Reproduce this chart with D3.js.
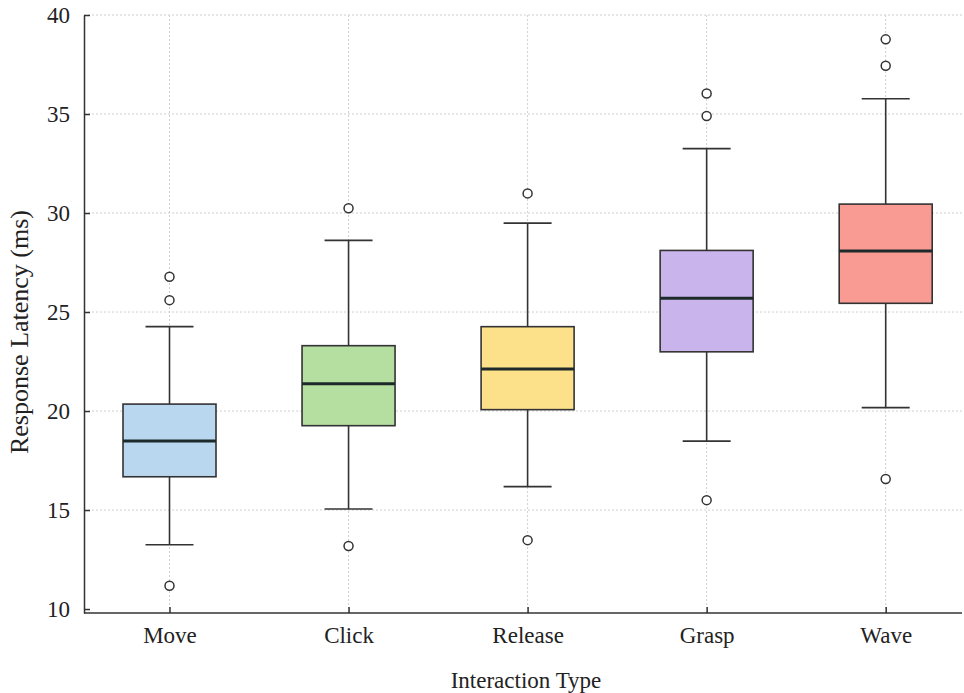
<!DOCTYPE html>
<html>
<head>
<meta charset="utf-8">
<script src="https://cdn.jsdelivr.net/npm/d3@7"></script>
<style>
  html, body { margin: 0; padding: 0; background: #fff; }
  svg { display: block; }
  text { font-family: "Liberation Serif", "DejaVu Serif", serif; fill: #222; }
</style>
</head>
<body>
<svg id="chart" width="964" height="693"></svg>
<script>
const categories = ["Move", "Click", "Release", "Grasp", "Wave"];
const q1 =        [16.68, 19.26, 20.07, 22.99, 25.44];
const medians =   [18.48, 21.38, 22.12, 25.69, 28.08];
const q3 =        [20.35, 23.30, 24.26, 28.11, 30.45];
const whiskerLo = [13.25, 15.05, 16.18, 18.48, 20.17];
const whiskerHi = [24.26, 28.62, 29.49, 33.25, 35.77];
const outliers = [
  [26.78, 25.60, 11.18],
  [30.24, 13.18],
  [30.99, 13.48],
  [36.04, 34.90, 15.50],
  [38.77, 37.44, 16.57]
];
const colors = ["#b9d7ee", "#b4dfa0", "#fde08a", "#c9b4ec", "#f99b93"];
const yTicks = [10, 15, 20, 25, 30, 35, 40];

(function () {
const svg = d3.select("#chart");
const mLeft = 84, mRight = 962, mTop = 15, mBottom = 613;

const y = d3.scaleLinear().domain([9.8, 40]).range([mBottom, mTop]);
const x = d3.scalePoint().domain(categories).range([169.5, 885.7]);

const gridColor = "#cfcfcf";
svg.append("g").selectAll("line").data(yTicks.filter(t => t > 10)).join("line")
  .attr("x1", mLeft).attr("x2", mRight)
  .attr("y1", d => y(d)).attr("y2", d => y(d))
  .attr("stroke", gridColor).attr("stroke-width", 1).attr("stroke-dasharray", "2,2");
svg.append("g").selectAll("line").data(categories).join("line")
  .attr("x1", d => x(d)).attr("x2", d => x(d))
  .attr("y1", mTop).attr("y2", mBottom)
  .attr("stroke", gridColor).attr("stroke-width", 1).attr("stroke-dasharray", "2,2");

const yAxis = svg.append("g").attr("transform", `translate(${mLeft},0)`)
  .call(d3.axisLeft(y).tickValues(yTicks).tickSizeInner(-6).tickSizeOuter(0).tickPadding(14));
yAxis.select(".domain").attr("stroke", "#333").attr("stroke-width", 1.5);
yAxis.selectAll(".tick line").attr("stroke", "#333").attr("stroke-width", 1.5);
yAxis.selectAll("text").attr("font-size", 23).attr("font-family", "Liberation Serif").attr("fill", "#222");

const xAxis = svg.append("g").attr("transform", `translate(0,${mBottom})`)
  .call(d3.axisBottom(x).tickSizeInner(-6).tickSizeOuter(0).tickPadding(14));
xAxis.select(".domain").remove();
xAxis.append("line").attr("x1", mLeft).attr("x2", mRight).attr("y1", 0).attr("y2", 0)
  .attr("stroke", "#333").attr("stroke-width", 1.5);
xAxis.selectAll(".tick line").attr("stroke", "#333").attr("stroke-width", 1.5);
xAxis.selectAll("text").attr("font-size", 23).attr("font-family", "Liberation Serif").attr("fill", "#222");

const boxW = 93, capW = 48;
const g = svg.append("g");
const stroke = "#333";
categories.forEach((c, i) => {
  const cx = x(c);
  g.append("line").attr("x1", cx).attr("x2", cx).attr("y1", y(q3[i])).attr("y2", y(whiskerHi[i]))
    .attr("stroke", stroke).attr("stroke-width", 1.6);
  g.append("line").attr("x1", cx).attr("x2", cx).attr("y1", y(q1[i])).attr("y2", y(whiskerLo[i]))
    .attr("stroke", stroke).attr("stroke-width", 1.6);
  g.append("line").attr("x1", cx - capW/2).attr("x2", cx + capW/2).attr("y1", y(whiskerHi[i])).attr("y2", y(whiskerHi[i]))
    .attr("stroke", stroke).attr("stroke-width", 1.6);
  g.append("line").attr("x1", cx - capW/2).attr("x2", cx + capW/2).attr("y1", y(whiskerLo[i])).attr("y2", y(whiskerLo[i]))
    .attr("stroke", stroke).attr("stroke-width", 1.6);
  g.append("rect").attr("x", cx - boxW/2).attr("width", boxW)
    .attr("y", y(q3[i])).attr("height", y(q1[i]) - y(q3[i]))
    .attr("fill", colors[i]).attr("stroke", stroke).attr("stroke-width", 1.6);
  g.append("line").attr("x1", cx - boxW/2).attr("x2", cx + boxW/2).attr("y1", y(medians[i])).attr("y2", y(medians[i]))
    .attr("stroke", "#1e2a2a").attr("stroke-width", 3);
  g.selectAll(null).data(outliers[i]).join("circle")
    .attr("cx", cx).attr("cy", d => y(d)).attr("r", 4.5)
    .attr("fill", "#fff").attr("stroke", stroke).attr("stroke-width", 1.5);
});

svg.append("text").attr("x", 526).attr("y", 688).attr("text-anchor", "middle")
  .attr("font-size", 23).text("Interaction Type");
svg.append("text").attr("transform", "translate(28,332) rotate(-90)").attr("text-anchor", "middle")
  .attr("font-size", 26).text("Response Latency (ms)");
})();
</script>
</body>
</html>
